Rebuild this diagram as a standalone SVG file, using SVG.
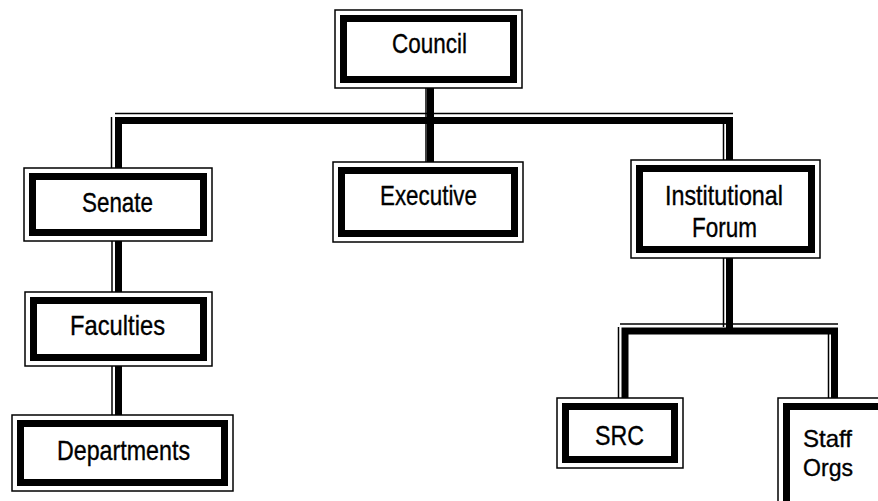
<svg xmlns="http://www.w3.org/2000/svg" width="878" height="501" viewBox="0 0 878 501">
<style>
.outer{fill:#fff;stroke:#000;stroke-width:1.5}
.frame{fill:none;stroke:#000;stroke-width:7}
.c{fill:none;stroke:#000;stroke-width:7;stroke-linejoin:miter;stroke-linecap:butt}
.ct{fill:none;stroke:#000;stroke-width:1.5}
.t{font-family:"Liberation Sans",Arial,Helvetica,sans-serif;font-size:28px;fill:#000;stroke:#000;stroke-width:0.35}
.s{font-size:24px}
.m{text-anchor:middle}
</style>
<rect width="878" height="501" fill="#fff"/>
<g id="connectors">
<path class="c" d="M118.5,168 V120.5 H729.5 V160"/>
<path class="c" d="M430.5,88 V162"/>
<path class="c" d="M118.5,241 V292"/>
<path class="c" d="M118.5,366 V415"/>
<path class="c" d="M729.5,258 V331"/>
<path class="c" d="M625,398 V331 H834.5 V398"/>
<path class="ct" d="M115,113.5 H733"/>
<path class="ct" d="M111.5,117 V168"/>
<path class="ct" d="M426,88 V162"/>
<path class="ct" d="M723.5,117 V160"/>
<path class="ct" d="M112,241 V292"/>
<path class="ct" d="M112,366 V415"/>
<path class="ct" d="M723.5,258 V327"/>
<path class="ct" d="M620,324 H838"/>
<path class="ct" d="M618.5,327 V398"/>
<path class="ct" d="M828.5,331 V398"/>
</g>
<g id="council">
<rect class="outer" x="335" y="10" width="187" height="78"/>
<rect class="frame" x="343.5" y="18.5" width="170" height="61"/>
<text class="t m" x="429.5" y="53" textLength="75" lengthAdjust="spacingAndGlyphs">Council</text>
</g>
<g id="senate">
<rect class="outer" x="24" y="168" width="188" height="73"/>
<rect class="frame" x="32.5" y="176.5" width="171" height="56"/>
<text class="t m" x="117.5" y="212" textLength="71" lengthAdjust="spacingAndGlyphs">Senate</text>
</g>
<g id="executive">
<rect class="outer" x="333" y="162" width="190" height="80"/>
<rect class="frame" x="341.5" y="170.5" width="173" height="63"/>
<text class="t m" x="428.5" y="205" textLength="97" lengthAdjust="spacingAndGlyphs">Executive</text>
</g>
<g id="institutional-forum">
<rect class="outer" x="631" y="160" width="189" height="98"/>
<rect class="frame" x="639.5" y="168.5" width="172" height="81"/>
<text class="t m"><tspan x="724" y="205" textLength="118" lengthAdjust="spacingAndGlyphs">Institutional</tspan><tspan x="724.5" y="237" textLength="65" lengthAdjust="spacingAndGlyphs">Forum</tspan></text>
</g>
<g id="faculties">
<rect class="outer" x="25" y="292" width="187" height="74"/>
<rect class="frame" x="33.5" y="300.5" width="170" height="57"/>
<text class="t m" x="117.5" y="335" textLength="95" lengthAdjust="spacingAndGlyphs">Faculties</text>
</g>
<g id="departments">
<rect class="outer" x="12" y="415" width="221" height="76"/>
<rect class="frame" x="20.5" y="423.5" width="204" height="59"/>
<text class="t m" x="123.5" y="460" textLength="133" lengthAdjust="spacingAndGlyphs">Departments</text>
</g>
<g id="src">
<rect class="outer" x="557" y="398" width="126" height="70"/>
<rect class="frame" x="565.5" y="406.5" width="109" height="53"/>
<text class="t m" x="619.5" y="445" textLength="49" lengthAdjust="spacingAndGlyphs">SRC</text>
</g>
<g id="staff-orgs">
<rect class="outer" x="778" y="398" width="130" height="130"/>
<rect class="frame" x="786.5" y="406.5" width="113" height="113"/>
<text class="t s"><tspan x="803" y="447" textLength="49" lengthAdjust="spacingAndGlyphs">Staff</tspan><tspan x="803" y="476" textLength="50" lengthAdjust="spacingAndGlyphs">Orgs</tspan></text>
</g>
</svg>
